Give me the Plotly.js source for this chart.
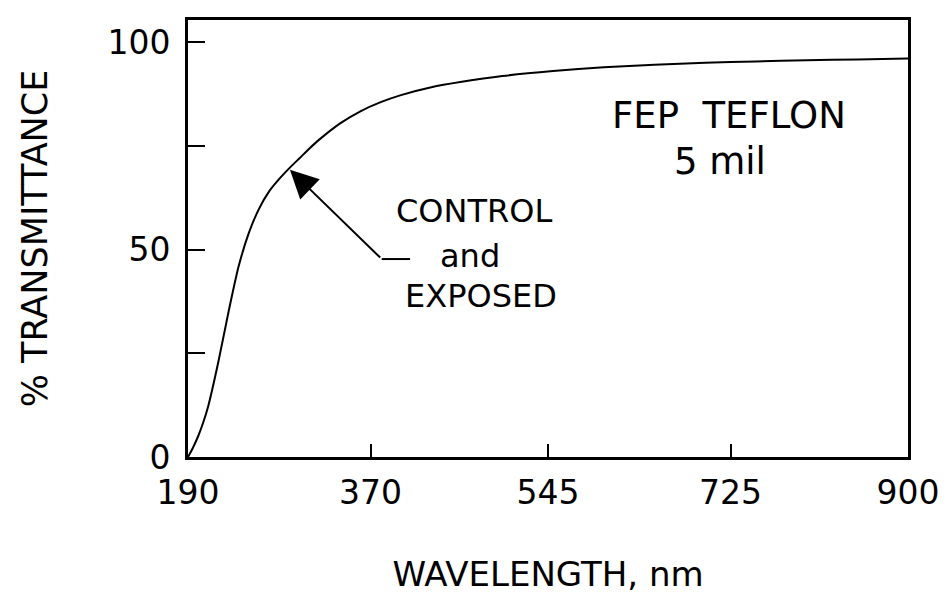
<!DOCTYPE html>
<html>
<head>
<meta charset="utf-8">
<script src="https://cdn.plot.ly/plotly-3.0.1.min.js"></script>
<style>html,body{margin:0;padding:0;background:#fff;}#chart{width:948px;height:608px;}</style>
</head>
<body>
<div id="chart"></div>
<script>
// Wavelength (nm) and % transmittance
var wavelength = [190, 195, 200, 205, 210, 220, 230, 240, 250, 260, 270, 280, 290, 300, 310, 320, 340, 360, 380, 400, 430, 460, 500, 550, 600, 650, 700, 750, 800, 850, 900];
var transmittance = [0, 2.3, 5, 8.3, 12.3, 23, 35, 46, 54, 59.8, 64, 67, 69.6, 72.0, 74.4, 76.6, 80.4, 83.3, 85.5, 87.2, 89.1, 90.4, 91.8, 93.0, 93.9, 94.5, 95.0, 95.3, 95.6, 95.8, 96.0];

var xTickVals = [190, 370, 545, 725, 900];
var xTickText = ["190", "370", "545", "725", "900"];
var yTickVals = [0, 25, 50, 75, 100];
var yTickText = ["0", "", "50", "", "100"];

var FONT = "DejaVu Sans, Arial, sans-serif";

var trace = {
  x: wavelength,
  y: transmittance,
  type: "scatter",
  mode: "lines",
  line: {color: "#000", width: 2, shape: "spline", smoothing: 0.7},
  hoverinfo: "skip",
  showlegend: false
};

var layout = {
  width: 948,
  height: 608,
  margin: {l: 188, r: 40, t: 20, b: 151},
  paper_bgcolor: "#fff",
  plot_bgcolor: "#fff",
  font: {family: FONT, color: "#000", size: 33},
  xaxis: {
    range: [190, 900],
    tickmode: "array",
    tickvals: xTickVals,
    ticktext: xTickText,
    ticks: "inside",
    ticklen: 13,
    tickwidth: 2,
    tickcolor: "#000",
    ticklabelstandoff: 4,
    showline: true,
    mirror: true,
    linewidth: 3,
    linecolor: "#000",
    showgrid: false,
    zeroline: false,
    tickfont: {family: FONT, size: 33, color: "#000"},
    title: {text: "WAVELENGTH, nm", font: {family: FONT, size: 34, color: "#000"}, standoff: 52}
  },
  yaxis: {
    range: [0, 105.3],
    tickmode: "array",
    tickvals: yTickVals,
    ticktext: yTickText,
    ticks: "inside",
    ticklen: 17,
    tickwidth: 2,
    tickcolor: "#000",
    ticklabelstandoff: 8,
    showline: true,
    mirror: true,
    linewidth: 3,
    linecolor: "#000",
    showgrid: false,
    zeroline: false,
    tickfont: {family: FONT, size: 33, color: "#000"},
    title: {text: "% TRANSMITTANCE", font: {family: FONT, size: 35, color: "#000"}, standoff: 50}
  },
  annotations: [
    {x: 723, y: 82.2, xref: "x", yref: "y", text: "FEP  TEFLON", showarrow: false, font: {family: FONT, size: 37, color: "#000"}},
    {x: 715, y: 71.1, xref: "x", yref: "y", text: "5 mil", showarrow: false, font: {family: FONT, size: 37, color: "#000"}},
    {x: 472, y: 59.3, xref: "x", yref: "y", text: "CONTROL", showarrow: false, font: {family: FONT, size: 32, color: "#000"}},
    {x: 468, y: 48.4, xref: "x", yref: "y", text: "and", showarrow: false, font: {family: FONT, size: 32, color: "#000"}},
    {x: 479, y: 38.8, xref: "x", yref: "y", text: "EXPOSED", showarrow: false, font: {family: FONT, size: 32, color: "#000"}},
    {x: 290.5, y: 69.2, xref: "x", yref: "y", ax: 381, ay: 47.7, axref: "x", ayref: "y",
     text: "", showarrow: true, arrowhead: 2, arrowsize: 2.8, arrowwidth: 2, arrowcolor: "#000", standoff: 0}
  ],
  shapes: [
    {type: "line", xref: "x", yref: "y", x0: 381, y0: 47.7, x1: 409, y1: 47.7, line: {color: "#000", width: 2}}
  ]
};

Plotly.newPlot("chart", [trace], layout, {displayModeBar: false, staticPlot: true});
</script>
</body>
</html>
